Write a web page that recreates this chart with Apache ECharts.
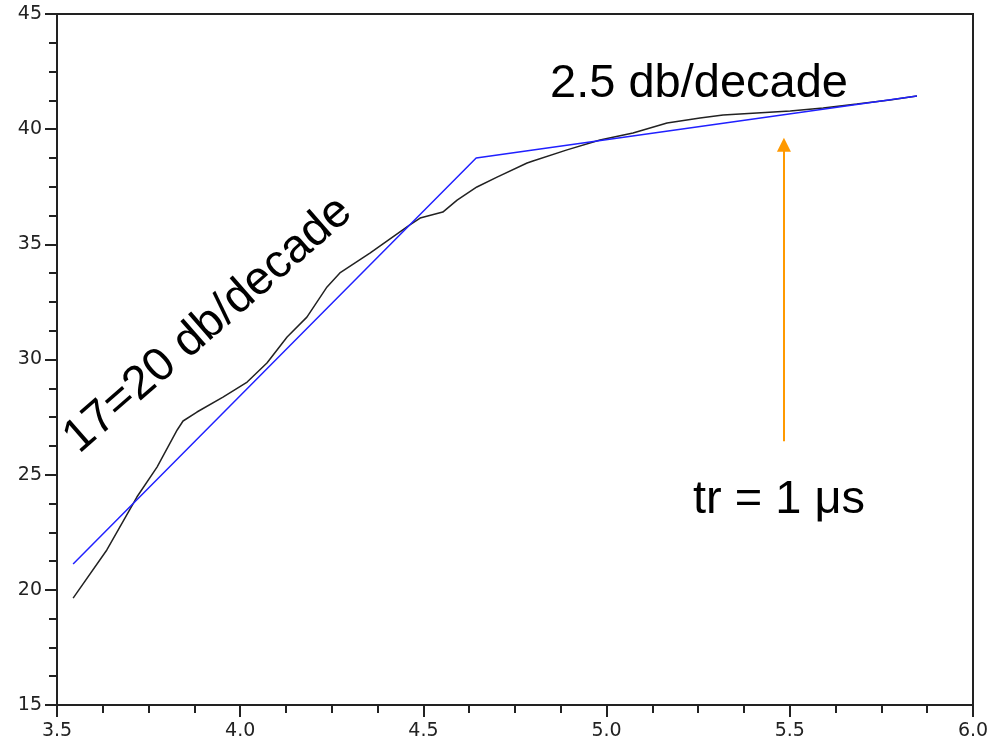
<!DOCTYPE html>
<html>
<head>
<meta charset="utf-8">
<script src="https://cdn.jsdelivr.net/npm/echarts@6/dist/echarts.min.js"></script>
<style>
  html, body { margin: 0; padding: 0; background: #fff; }
  #chart { width: 997px; height: 744px; }
</style>
</head>
<body>
<div id="chart"></div>
<script>
// measured curve (black)
const measX = [3.544, 3.636, 3.718, 3.773, 3.828, 3.844, 3.882, 3.953, 4.019, 4.073, 4.128, 4.182,
  4.237, 4.272, 4.354, 4.463, 4.491, 4.553, 4.592, 4.646, 4.701, 4.783, 4.799, 4.892, 4.982,
  5.072, 5.165, 5.255, 5.318, 5.410, 5.501, 5.591, 5.683, 5.773, 5.847];
const measY = [19.64, 21.73, 24.03, 25.33, 26.94, 27.33, 27.72, 28.37, 29.02, 29.85, 30.98, 31.84,
  33.15, 33.76, 34.62, 35.84, 36.14, 36.40, 36.92, 37.49, 37.92, 38.53, 38.62, 39.10, 39.53,
  39.83, 40.27, 40.48, 40.61, 40.70, 40.79, 40.92, 41.09, 41.27, 41.44];

// asymptote fit (blue)
const fitX = [3.544, 4.644, 5.847];
const fitY = [21.12, 38.75, 41.44];

// rise time marker arrow
const arrowX = [5.484, 5.484];
const arrowY = [26.45, 39.32];

const xTicks = [3.5, 4.0, 4.5, 5.0, 5.5, 6.0];
const yTicks = [15, 20, 25, 30, 35, 40, 45];

const zip = (a, b) => a.map((v, i) => [v, b[i]]);

const chart = echarts.init(document.getElementById('chart'));

const labelStyle = { color: '#222', fontSize: 19, fontFamily: 'DejaVu Sans' };
const noteStyle = { fill: '#000', fontSize: 47, fontFamily: 'Liberation Sans, Arial', textAlign: 'center', textVerticalAlign: 'middle' };

chart.setOption({
  animation: false,
  grid: {
    left: 57, right: 24, top: 14, bottom: 39,
    show: true, borderColor: '#222', borderWidth: 2, backgroundColor: 'transparent'
  },
  xAxis: {
    type: 'value',
    min: xTicks[0], max: xTicks[xTicks.length - 1], interval: 0.5,
    axisLine: { show: true, lineStyle: { color: '#222', width: 2 } },
    axisTick: { show: true, inside: false, length: 12, lineStyle: { color: '#222', width: 2 } },
    minorTick: { show: true, splitNumber: 4, length: 8, lineStyle: { color: '#222', width: 2 } },
    splitLine: { show: false },
    axisLabel: Object.assign({ margin: 17, formatter: v => v.toFixed(1) }, labelStyle)
  },
  yAxis: {
    type: 'value',
    min: yTicks[0], max: yTicks[yTicks.length - 1], interval: 5,
    axisLine: { show: true, lineStyle: { color: '#222', width: 2 } },
    axisTick: { show: true, inside: false, length: 12, lineStyle: { color: '#222', width: 2 } },
    minorTick: { show: true, splitNumber: 4, length: 8, lineStyle: { color: '#222', width: 2 } },
    splitLine: { show: false },
    axisLabel: Object.assign({ margin: 15 }, labelStyle)
  },
  series: [
    {
      type: 'line',
      data: zip(measX, measY),
      symbol: 'none',
      lineStyle: { color: '#222', width: 1.5 },
      z: 3
    },
    {
      type: 'line',
      data: zip(fitX, fitY),
      symbol: 'none',
      lineStyle: { color: '#2020ff', width: 1.5 },
      z: 4,
      markLine: {
        silent: true,
        symbol: ['none', 'triangle'],
        symbolSize: 14,
        label: { show: false },
        itemStyle: { color: '#ff9900' },
        lineStyle: { color: '#ff9900', width: 2, type: 'solid' },
        data: [[
          { coord: [arrowX[0], arrowY[0]] },
          { coord: [arrowX[1], arrowY[1]] }
        ]]
      }
    }
  ],
  graphic: [
    { type: 'text', x: 699, y: 84, style: Object.assign({ text: '2.5 db/decade' }, noteStyle) },
    { type: 'text', x: 779, y: 500, style: Object.assign({ text: 'tr = 1 μs' }, noteStyle) },
    { type: 'text', x: 208, y: 325, rotation: 41 * Math.PI / 180, style: Object.assign({ text: '17=20 db/decade' }, noteStyle) }
  ]
});
</script>
</body>
</html>
